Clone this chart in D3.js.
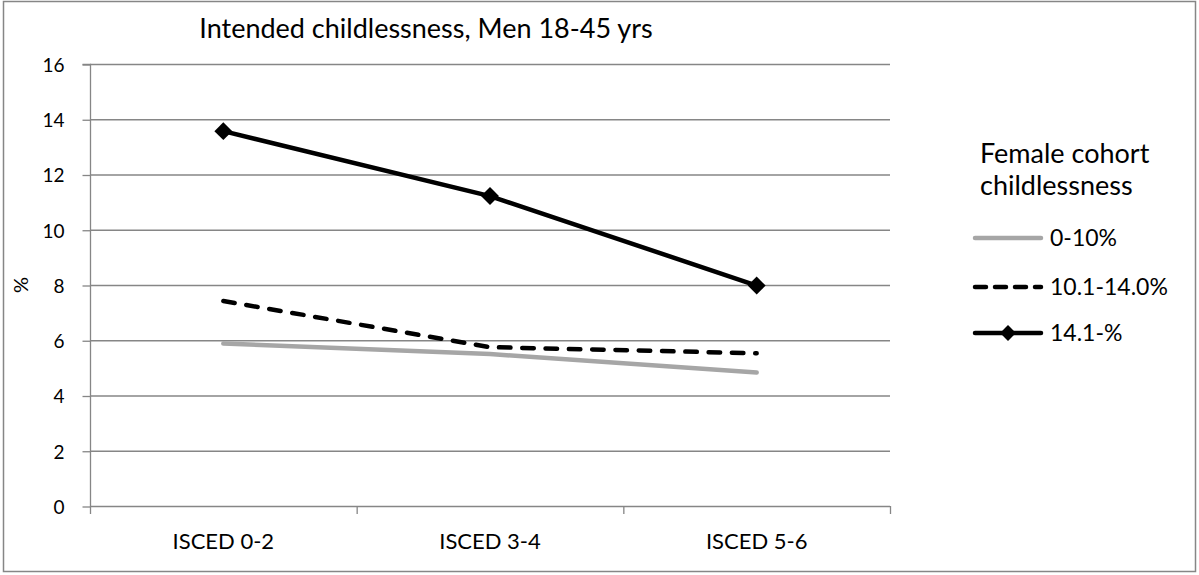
<!DOCTYPE html>
<html><head><meta charset="utf-8">
<script src="https://cdn.jsdelivr.net/npm/d3@7"></script>
<style>body{margin:0;background:#fff}svg{display:block;font-family:Lato,"Open Sans",sans-serif}</style>
</head><body>
<svg id="c" width="1199" height="575"></svg>
<script>
const categories = ["ISCED 0-2","ISCED 3-4","ISCED 5-6"];
const seriesNames = ["0-10%","10.1-14.0%","14.1-%"];
const s1 = [5.88, 5.5, 4.83];
const s2 = [7.42, 5.75, 5.53];
const s3 = [13.57, 11.22, 7.98];
const yTicks = [0,2,4,6,8,10,12,14,16];
const title = "Intended childlessness, Men 18-45 yrs";
const yLabel = "%";
const legendTitle = ["Female cohort","childlessness"];

const svg = d3.select("#c");
svg.append("rect").attr("x",3.5).attr("y",1.5).attr("width",1192).attr("height",570)
  .attr("fill","#fff").attr("stroke","#868686").attr("stroke-width",1.5);

const L=90,R=890,T=64,B=506;
const x = d3.scaleBand().domain(categories).range([L,R]);
const y = d3.scaleLinear().domain([0,16]).range([B,T]);

// gridlines
svg.append("g").selectAll("line").data(yTicks.filter(d=>d>0)).join("line")
  .attr("x1",L).attr("x2",R).attr("y1",d=>y(d)+0.5).attr("y2",d=>y(d)+0.5)
  .attr("stroke","#868686").attr("stroke-width",1.3);

// y axis
const ya = svg.append("g").attr("transform",`translate(${L+0.5},0.5)`)
  .call(d3.axisLeft(y).tickValues(yTicks).tickSize(8).tickPadding(18));
ya.select(".domain").attr("stroke","#868686").attr("stroke-width",1.3).attr("d",`M-8,${y(16)}H0V${y(0)}`);
ya.selectAll(".tick line").attr("stroke","#868686").attr("stroke-width",1.3);
ya.selectAll("text").attr("font-size",19).attr("fill","#000").attr("font-family","Lato").attr("dy","0.36em");

// x axis
const xa = svg.append("g").attr("transform",`translate(0,${B+0.5})`)
  .call(d3.axisBottom(x).tickSize(0).tickPadding(27));
xa.select(".domain").attr("stroke","#868686").attr("stroke-width",1.3).attr("d",`M${L},0H${R}`);
xa.selectAll("text").attr("font-size",22).attr("fill","#000").attr("font-family","Lato");
const bounds = [L].concat(categories.map(c=>x(c)+x.bandwidth()));
svg.append("g").selectAll("line").data(bounds).join("line")
  .attr("x1",d=>d+0.5).attr("x2",d=>d+0.5).attr("y1",B).attr("y2",B+8)
  .attr("stroke","#868686").attr("stroke-width",1.3);

const cx = c=>x(c)+x.bandwidth()/2;
const line = d3.line().x((d,i)=>cx(categories[i])).y(d=>y(d));

svg.append("path").datum(s1).attr("d",line).attr("fill","none")
  .attr("stroke","#a6a6a6").attr("stroke-width",4.5).attr("stroke-linecap","round");
svg.append("path").datum(s2).attr("d",line).attr("fill","none")
  .attr("stroke","#000").attr("stroke-width",4.5).attr("stroke-dasharray","11.5,11.8").attr("stroke-linecap","round");
svg.append("path").datum(s3).attr("d",line).attr("fill","none")
  .attr("stroke","#000").attr("stroke-width",4.5);
const diamond = d3.symbol().type(d3.symbolDiamond2).size(205);
svg.append("g").selectAll("path").data(s3).join("path")
  .attr("d",diamond).attr("transform",(d,i)=>`translate(${cx(categories[i])},${y(d)})`).attr("fill","#000");

// title
svg.append("text").attr("x",426).attr("y",38).attr("text-anchor","middle")
  .attr("font-size",27).attr("fill","#000").text(title);
// y label
svg.append("text").attr("transform","translate(28,285) rotate(-90)").attr("text-anchor","middle")
  .attr("font-size",20).attr("fill","#000").text(yLabel);

// legend
const lg = svg.append("g");
lg.selectAll("text.t").data(legendTitle).join("text").attr("class","t")
  .attr("x",980).attr("y",(d,i)=>163+i*32).attr("font-size",27).attr("fill","#000").text(d=>d);
const ly = [238,287,333];
const styles = [
  {stroke:"#a6a6a6",dash:null},
  {stroke:"#000",dash:"11,9"},
  {stroke:"#000",dash:null}];
seriesNames.forEach((n,i)=>{
  lg.append("line").attr("x1",975).attr("x2",1041).attr("y1",ly[i]).attr("y2",ly[i])
    .attr("stroke",styles[i].stroke).attr("stroke-width",4.5)
    .attr("stroke-dasharray",styles[i].dash).attr("stroke-linecap","round");
  if(i===2) lg.append("path").attr("d",d3.symbol().type(d3.symbolDiamond2).size(160)).attr("transform",`translate(1008,${ly[i]})`).attr("fill","#000");
  lg.append("text").attr("x",1050).attr("y",ly[i]+8).attr("font-size",23).attr("fill","#000").text(n);
});
</script>
</body></html>
